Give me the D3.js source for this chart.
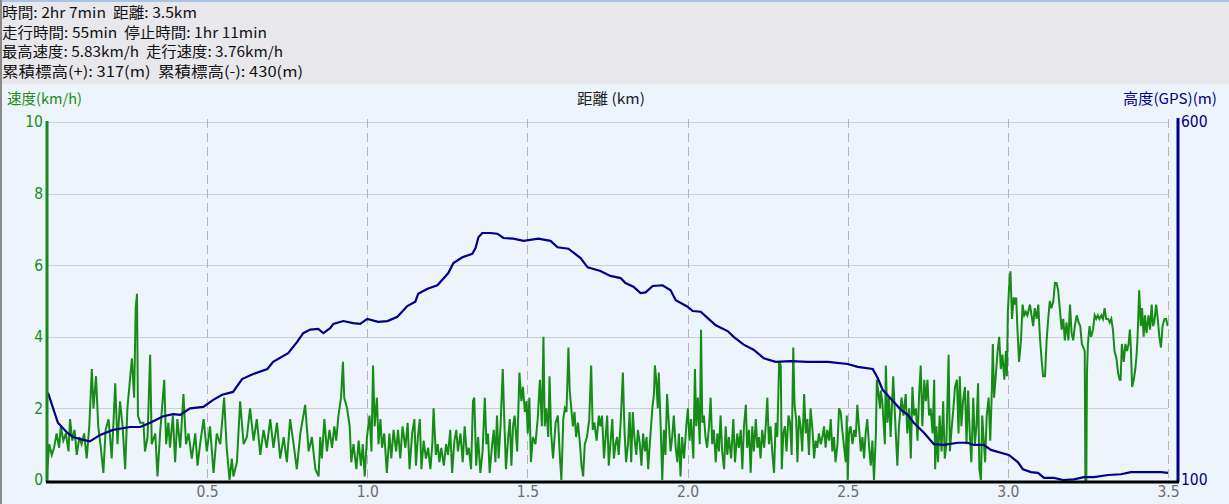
<!DOCTYPE html>
<html><head><meta charset="utf-8">
<script src="https://cdn.jsdelivr.net/npm/d3@7/dist/d3.min.js"></script>
<style>
html,body{margin:0;padding:0;background:#eef4fc;overflow:hidden;}
svg{display:block;}
text{white-space:pre;}
</style></head>
<body>
<svg id="chart" width="1229" height="504"></svg>
<script>
// ---------- summary text ----------
const summaryLines = [
  "時間: 2hr 7min  距離: 3.5km",
  "走行時間: 55min  停止時間: 1hr 11min",
  "最高速度: 5.83km/h  走行速度: 3.76km/h",
  "累積標高(+): 317(m)  累積標高(-): 430(m)"
];
const summaryWidths = [195, 265, 281, 301];
const speedLabel = "速度(km/h)";
const distLabel = "距離 (km)";
const altLabel = "高度(GPS)(m)";

// ---------- axes ticks ----------
const distTicks = [0.5, 1.0, 1.5, 2.0, 2.5, 3.0, 3.5];
const speedTicks = [0, 2, 4, 6, 8, 10];
const altTicks = [100, 600];
const speedGrid = [2, 4, 6, 8, 10];

// ---------- altitude (km, m) ----------
const altitude = [
[0.003,222],[0.034,180],[0.063,166],[0.081,160],[0.113,156],[0.134,154],[0.166,163],[0.206,170],
[0.259,174],[0.291,174],[0.322,180],[0.363,189],[0.394,192],[0.416,191],[0.447,200],[0.488,202],
[0.519,212],[0.547,219],[0.581,223],[0.609,241],[0.644,248],[0.688,255],[0.706,265],[0.753,277],
[0.781,293],[0.800,305],[0.822,310],[0.847,311],[0.863,305],[0.884,312],[0.894,318],[0.925,322],
[0.956,319],[0.978,318],[1.000,325],[1.034,321],[1.063,322],[1.094,328],[1.125,343],[1.150,349],
[1.159,360],[1.188,367],[1.219,372],[1.253,389],[1.269,403],[1.297,411],[1.328,416],[1.338,424],
[1.347,439],[1.359,445],[1.384,445],[1.406,444],[1.425,438],[1.456,437],[1.488,434],[1.534,437],
[1.572,434],[1.594,425],[1.628,423],[1.666,410],[1.688,397],[1.728,392],[1.759,385],[1.791,382],
[1.806,375],[1.831,370],[1.853,361],[1.869,362],[1.891,371],[1.922,372],[1.947,365],[1.963,351],
[2.000,342],[2.016,336],[2.041,335],[2.063,326],[2.088,316],[2.125,308],[2.144,300],[2.175,289],
[2.206,282],[2.238,270],[2.275,265],[2.322,266],[2.375,265],[2.438,265],[2.500,262],[2.531,258],
[2.578,255],[2.594,242],[2.609,226],[2.634,214],[2.644,209],[2.666,198],[2.688,191],[2.706,180],
[2.738,166],[2.769,150],[2.800,149],[2.844,152],[2.875,152],[2.894,149],[2.925,149],[2.947,142],
[2.978,138],[3.003,135],[3.031,125],[3.047,115],[3.072,111],[3.094,110],[3.113,103],[3.144,103],
[3.172,100],[3.206,101],[3.238,104],[3.269,104],[3.313,107],[3.353,108],[3.384,111],[3.438,111],
[3.478,111],[3.500,110]
];

// ---------- speed (km, km/h), read in four stretches ----------
const speedA = [
[0,0],[0.001,0.3],[0.007,1.0],[0.015,0.7],[0.022,0.9],[0.030,1.3],[0.038,0.9],[0.043,1.5],[0.051,1.1],
[0.059,1.3],[0.067,0.8],[0.072,1.7],[0.079,1.1],[0.086,1.4],[0.093,0.7],[0.101,1.2],[0.108,1.0],
[0.116,1.3],[0.124,0.6],[0.132,1.5],[0.140,3.1],[0.145,2.0],[0.153,2.9],[0.160,1.5],[0.168,0.9],
[0.176,0.2],[0.183,1.4],[0.192,1.7],[0.197,1.2],[0.202,0.6],[0.207,1.5],[0.213,2.7],[0.220,1.0],
[0.228,2.2],[0.236,1.5],[0.244,0.3],[0.251,2.0],[0.257,2.6],[0.265,3.4],[0.272,2.3],[0.277,4.8],
[0.281,5.2],[0.284,1.8],[0.291,1.6],[0.301,1.6],[0.306,0.8],[0.314,1.2],[0.322,3.5],[0.327,1.0],
[0.338,1.3],[0.345,0.1],[0.353,1.3],[0.366,2.8],[0.372,1.0],[0.379,1.6],[0.384,0.9],[0.393,1.8],
[0.400,0.5],[0.407,1.7],[0.416,0.9],[0.426,2.4],[0.434,1.0],[0.442,1.3],[0.452,0.6],[0.463,1.3],
[0.470,0.4],[0.478,1.0],[0.489,1.7],[0.499,0.8],[0.509,1.5],[0.520,0.2],[0.530,1.3],[0.541,1.0],
[0.553,2.3],[0.561,0.9],[0.570,0.0],[0.577,0.6],[0.582,0.1],[0.593,0.5],[0.603,2.2],[0.614,1.0],
[0.624,1.2],[0.634,2.0],[0.645,1.1],[0.655,1.7],[0.666,0.7],[0.676,1.4],[0.686,0.9],[0.697,1.7],
[0.707,0.9],[0.718,1.6],[0.728,0.6],[0.739,1.2],[0.749,0.5],[0.759,1.7],[0.770,1.0],[0.780,0.3],
[0.791,1.3],[0.806,2.1],[0.817,0.8],[0.827,1.2],[0.838,0.3],[0.848,0.1]
];
const speedB = [
[0.853,1.2],[0.858,0.6],[0.866,1.7],[0.874,0.8],[0.882,1.4],[0.890,0.9],[0.897,1.5],[0.903,1.1],
[0.910,1.8],[0.918,2.3],[0.924,3.3],[0.928,2.3],[0.937,2.0],[0.945,1.5],[0.950,0.5],[0.957,1.0],
[0.966,0.3],[0.973,1.1],[0.980,0.4],[0.986,1.0],[0.992,0.1],[0.999,1.2],[1.007,1.8],[1.013,0.8],
[1.018,3.2],[1.023,1.5],[1.030,2.3],[1.035,1.0],[1.041,1.7],[1.046,0.9],[1.053,1.3],[1.061,0.2],
[1.069,1.3],[1.075,0.6],[1.082,1.4],[1.090,0.8],[1.096,1.4],[1.103,0.6],[1.110,1.5],[1.119,0.9],
[1.126,1.6],[1.132,0.3],[1.140,1.3],[1.147,1.7],[1.152,0.4],[1.158,1.2],[1.164,1.7],[1.169,0.3],
[1.176,1.1],[1.183,0.6],[1.190,0.9],[1.197,0.3],[1.203,1.0],[1.207,2.0],[1.214,0.7],[1.220,1.0],
[1.225,0.5],[1.231,0.9],[1.239,0.4],[1.246,1.0],[1.252,0.7],[1.259,1.4],[1.265,0.2],[1.272,1.1],
[1.278,1.4],[1.283,0.8],[1.291,1.3],[1.298,0.5],[1.304,1.5],[1.311,0.7],[1.317,0.9],[1.324,0.3],
[1.330,2.2],[1.334,2.3],[1.340,0.4],[1.346,1.2],[1.353,0.2],[1.360,0.8],[1.367,2.3],[1.372,1.0],
[1.377,1.3],[1.382,0.2],[1.390,1.0],[1.395,1.4],[1.400,0.5],[1.405,1.8],[1.410,0.6],[1.416,1.5],
[1.423,3.1],[1.428,1.6],[1.433,0.3],[1.440,1.2],[1.445,1.7],[1.450,0.4],[1.455,1.5],[1.460,1.8],
[1.468,0.8],[1.475,3.0],[1.481,2.2],[1.486,2.6],[1.492,1.9],[1.497,2.2],[1.501,1.3],[1.506,2.3],
[1.511,0.5],[1.517,1.2],[1.525,1.0],[1.532,1.7],[1.539,2.8],[1.545,1.5],[1.550,4.0],[1.554,1.5],
[1.559,2.0],[1.565,1.2],[1.569,2.9],[1.574,1.3],[1.580,0.6],[1.588,1.6],[1.595,1.8],[1.601,0.7],
[1.606,0.0],[1.612,1.7],[1.617,2.0],[1.622,1.9],[1.628,3.7],[1.632,2.5],[1.636,2.1],[1.642,1.5],
[1.647,1.9],[1.652,1.2],[1.658,1.6],[1.664,1.0],[1.669,0.4],[1.674,0.1],[1.679,1.0],[1.686,1.2],
[1.693,1.7],[1.699,3.2],[1.704,1.4],[1.709,1.6],[1.716,1.1],[1.723,1.8]
];
const speedC = [
[1.728,1.5],[1.733,1.8],[1.739,0.6],[1.744,1.2],[1.749,1.8],[1.754,0.4],[1.759,1.0],[1.765,1.7],
[1.770,0.6],[1.775,1.0],[1.780,1.2],[1.785,0.7],[1.791,1.6],[1.798,3.0],[1.803,1.4],[1.808,0.5],
[1.814,1.0],[1.819,1.9],[1.824,0.5],[1.829,1.9],[1.834,1.2],[1.840,0.7],[1.845,1.4],[1.851,1.0],
[1.856,0.4],[1.861,1.3],[1.867,0.8],[1.872,1.2],[1.877,0.3],[1.882,1.0],[1.890,2.0],[1.895,2.4],
[1.898,3.2],[1.902,2.8],[1.907,2.0],[1.910,3.0],[1.916,1.5],[1.921,0.0],[1.926,1.4],[1.931,0.7],
[1.936,2.4],[1.942,1.5],[1.947,0.8],[1.952,1.2],[1.957,1.8],[1.963,0.9],[1.968,0.5],[1.973,1.3],
[1.978,0.1],[1.983,1.2],[1.989,0.6],[1.996,1.5],[2.001,2.0],[2.006,1.1],[2.011,1.7],[2.018,0.6],
[2.023,3.1],[2.027,1.5],[2.032,2.3],[2.038,1.0],[2.042,4.2],[2.046,1.6],[2.051,1.8],[2.056,1.2],
[2.061,0.9],[2.067,1.5],[2.072,2.3],[2.077,1.0],[2.082,1.4],[2.088,0.5],[2.093,1.3],[2.098,0.8],
[2.103,1.8],[2.108,0.8],[2.114,0.3],[2.119,1.5],[2.124,0.7],[2.129,1.2],[2.136,0.6],[2.143,1.7],
[2.148,0.5],[2.155,1.3],[2.160,0.9],[2.166,1.4],[2.171,0.3],[2.176,1.5],[2.182,2.1],[2.186,0.9],
[2.192,1.4],[2.197,0.2],[2.202,1.5],[2.207,0.8],[2.213,1.7],[2.218,0.9],[2.223,1.2],[2.228,0.6],
[2.233,1.4],[2.239,0.9],[2.244,1.5],[2.249,2.3],[2.254,1.0],[2.259,1.5],[2.265,0.7],[2.270,0.2],
[2.275,1.6],[2.280,1.2],[2.286,3.3],[2.291,3.2],[2.294,0.3],[2.299,1.3],[2.304,1.5],[2.309,0.8],
[2.315,1.8],[2.320,1.6],[2.325,0.7],[2.330,3.7],[2.334,2.1],[2.339,1.7],[2.343,0.5],[2.348,1.8],
[2.353,1.5],[2.358,0.8],[2.364,2.4],[2.369,1.3],[2.374,1.7],[2.379,0.7],[2.384,2.0],[2.390,1.4],
[2.395,0.6],[2.400,1.1],[2.405,0.9],[2.410,1.3],[2.416,1.0],[2.421,1.2],[2.426,1.5],[2.431,0.9],
[2.436,1.4],[2.442,1.1],[2.447,1.7],[2.452,0.8],[2.457,1.2],[2.462,0.5],[2.468,1.0],[2.473,2.0],
[2.478,1.9],[2.483,1.4],[2.489,0.9],[2.494,0.5],[2.497,1.8],[2.500,0.0],[2.504,1.3],[2.509,1.5],
[2.515,1.0],[2.520,1.4],[2.525,1.2],[2.530,2.1],[2.535,1.5],[2.541,0.8],[2.546,1.2],[2.551,0.6],
[2.556,1.3],[2.561,1.7],[2.567,0.9],[2.572,0.4],[2.577,1.1],[2.582,0.0],[2.588,1.3],[2.591,2.8],
[2.596,2.4],[2.601,2.0]
];
const speedD = [
[2.603,2.5],[2.608,2.2],[2.616,1.0],[2.619,3.2],[2.624,1.6],[2.629,2.3],[2.634,1.2],[2.642,2.9],
[2.648,1.7],[2.655,0.4],[2.660,1.5],[2.668,2.3],[2.674,1.8],[2.681,2.4],[2.686,1.3],[2.692,2.0],
[2.697,0.6],[2.702,2.6],[2.707,1.8],[2.713,2.0],[2.718,1.1],[2.723,2.4],[2.728,3.2],[2.733,1.5],
[2.739,2.8],[2.744,2.2],[2.749,2.8],[2.754,1.8],[2.759,2.0],[2.765,1.3],[2.770,2.8],[2.773,0.3],
[2.777,1.5],[2.782,0.5],[2.787,1.8],[2.793,0.8],[2.798,2.2],[2.803,0.6],[2.808,1.0],[2.815,3.5],
[2.819,0.8],[2.825,1.5],[2.830,2.0],[2.835,2.6],[2.841,2.8],[2.846,1.3],[2.850,2.9],[2.855,1.5],
[2.860,2.2],[2.866,2.6],[2.871,1.0],[2.876,2.5],[2.881,1.3],[2.886,0.5],[2.892,2.3],[2.897,1.0],
[2.902,1.5],[2.907,2.7],[2.911,0.3],[2.916,0.0],[2.920,1.8],[2.924,1.2],[2.929,0.5],[2.934,1.8],
[2.940,2.3],[2.945,1.1],[2.950,2.5],[2.953,3.8],[2.957,2.3],[2.963,3.0],[2.968,3.6],[2.973,4.0],
[2.978,3.1],[2.983,3.5],[2.989,2.8],[2.994,3.6],[2.997,2.9],[3.000,4.7],[3.004,5.4],[3.008,5.83],
[3.013,4.5],[3.018,5.1],[3.022,4.9],[3.026,5.1],[3.030,4.2],[3.035,3.3],[3.041,3.9],[3.046,4.9],
[3.051,4.6],[3.056,4.7],[3.061,4.6],[3.069,4.9],[3.074,4.6],[3.079,4.3],[3.084,4.8],[3.090,4.5],
[3.095,4.9],[3.100,4.0],[3.105,3.4],[3.110,2.9],[3.116,2.9],[3.121,3.9],[3.126,4.5],[3.131,5.0],
[3.136,4.8],[3.142,5.0],[3.147,5.5],[3.152,5.5],[3.157,5.3],[3.162,4.8],[3.168,4.2],[3.173,4.5],
[3.178,3.9],[3.183,4.4],[3.189,3.9],[3.194,4.9],[3.199,4.1],[3.204,3.9],[3.209,4.3],[3.215,4.6],
[3.221,4.4],[3.226,4.3],[3.231,3.8],[3.236,3.7],[3.240,3.6],[3.242,0.0],[3.245,0.0],[3.247,3.0],
[3.250,3.8],[3.255,4.3],[3.260,4.0],[3.266,4.2],[3.271,4.6],[3.276,4.5],[3.281,4.6],[3.286,4.5],
[3.292,4.6],[3.297,4.5],[3.302,4.8],[3.307,4.5],[3.313,4.5],[3.318,4.4],[3.323,4.5],[3.328,4.2],
[3.333,3.6],[3.339,3.4],[3.344,3.0],[3.349,2.8],[3.352,2.8],[3.356,3.8],[3.362,3.3],[3.367,3.8],
[3.372,3.6],[3.377,3.8],[3.381,4.2],[3.384,3.7],[3.388,2.6],[3.393,2.8],[3.398,3.1],[3.402,3.5],
[3.405,4.0],[3.410,5.3],[3.415,4.3],[3.419,4.8],[3.424,4.0],[3.428,4.6],[3.433,4.1],[3.439,4.6],
[3.444,4.2],[3.449,4.9],[3.453,4.3],[3.457,4.4],[3.463,4.9],[3.468,4.5],[3.473,4.0],[3.478,3.7],
[3.483,4.3],[3.489,4.5],[3.494,4.5],[3.499,4.3]
];
const speed = speedA.concat(speedB, speedC, speedD);

// ---------- drawing ----------
const svg = d3.select("#chart");
const W = 1229, H = 504;
const x = d3.scaleLinear().domain([0, 3.5]).range([47, 1168]);
const ySpeed = d3.scaleLinear().domain([0, 10]).range([480, 122]);
const yAlt = d3.scaleLinear().domain([100, 600]).range([480, 122]);
const GREEN = "#168c16", NAVY = "#000088";
const headerFont = "'Noto Sans CJK JP', 'Noto Sans', sans-serif";
const tickFont = "'Liberation Sans Narrow', 'DejaVu Sans Condensed', 'Liberation Sans', sans-serif";

// background
svg.append("rect").attr("width", W).attr("height", H).attr("fill", "#eef4fc");
svg.append("rect").attr("width", W).attr("height", 84).attr("fill", "#e8e7ec");
svg.append("rect").attr("width", W).attr("height", 2).attr("fill", "#a9c3e3");
svg.append("rect").attr("x", 0).attr("width", 2).attr("height", H).attr("fill", "#8a8a8a");

// header text
svg.append("g").selectAll("text").data(summaryLines).join("text")
  .attr("x", 2).attr("y", (d, i) => 18 + i * 19.6)
  .attr("textLength", (d, i) => summaryWidths[i]).attr("lengthAdjust", "spacingAndGlyphs")
  .attr("font-family", headerFont).attr("font-size", 14.5).attr("fill", "#111")
  .text(d => d);

// axis titles
svg.append("text").attr("x", 7).attr("y", 104).attr("font-family", headerFont)
  .attr("textLength", 75).attr("lengthAdjust", "spacingAndGlyphs")
  .attr("font-size", 14.5).attr("fill", GREEN).text(speedLabel);
svg.append("text").attr("x", 577).attr("y", 104)
  .attr("textLength", 68).attr("lengthAdjust", "spacingAndGlyphs")
  .attr("font-family", headerFont).attr("font-size", 14.5).attr("fill", "#222").text(distLabel);
svg.append("text").attr("x", 1123).attr("y", 104)
  .attr("textLength", 94).attr("lengthAdjust", "spacingAndGlyphs")
  .attr("font-family", headerFont).attr("font-size", 14.5).attr("fill", NAVY).text(altLabel);

// grid
svg.append("g").selectAll("line").data(speedGrid).join("line")
  .attr("x1", 47).attr("x2", 1168)
  .attr("y1", d => Math.round(ySpeed(d)) + 0.5).attr("y2", d => Math.round(ySpeed(d)) + 0.5)
  .attr("stroke", "#cdd0d8").attr("stroke-width", 1);
svg.append("g").selectAll("line").data(distTicks).join("line")
  .attr("x1", d => Math.round(x(d)) + 0.5).attr("x2", d => Math.round(x(d)) + 0.5)
  .attr("y1", 119).attr("y2", 480)
  .attr("stroke", "#b4b4bc").attr("stroke-width", 1).attr("stroke-dasharray", "9,5");

// speed line
const speedLine = d3.line().x(d => x(d[0])).y(d => ySpeed(d[1]));
svg.append("path").datum(speed).attr("d", speedLine)
  .attr("fill", "none").attr("stroke", GREEN).attr("stroke-width", 2).attr("stroke-linejoin", "miter");

// altitude line
const altLine = d3.line().x(d => x(d[0])).y(d => yAlt(d[1]));
svg.append("path").datum(altitude).attr("d", altLine)
  .attr("fill", "none").attr("stroke", NAVY).attr("stroke-width", 2.2);

// axes
const leftAxis = d3.axisLeft(ySpeed).tickValues(speedTicks).tickSize(0).tickPadding(4);
const gL = svg.append("g").attr("transform", "translate(47,0)").call(leftAxis);
gL.select(".domain").remove();
gL.selectAll("text").attr("fill", GREEN).attr("font-family", tickFont).attr("font-size", 15.5);

const rightAxis = d3.axisRight(yAlt).tickValues(altTicks).tickSize(0).tickPadding(3);
const gR = svg.append("g").attr("transform", "translate(1178,0)").call(rightAxis);
gR.select(".domain").remove();
gR.selectAll("text").attr("fill", NAVY).attr("font-family", tickFont).attr("font-size", 15.5);

const bottomAxis = d3.axisBottom(x).tickValues(distTicks).tickSize(0).tickPadding(4)
  .tickFormat(d3.format(".1f"));
const gB = svg.append("g").attr("transform", "translate(0,482)").call(bottomAxis);
gB.select(".domain").remove();
gB.selectAll("text").attr("fill", "#6c6c6c").attr("font-family", tickFont).attr("font-size", 15.5);

svg.append("line").attr("x1", 47).attr("x2", 47).attr("y1", 121).attr("y2", 482)
  .attr("stroke", GREEN).attr("stroke-width", 3);
svg.append("line").attr("x1", 1178).attr("x2", 1178).attr("y1", 118).attr("y2", 482)
  .attr("stroke", NAVY).attr("stroke-width", 3);
svg.append("line").attr("x1", 46).attr("x2", 1179).attr("y1", 482).attr("y2", 482)
  .attr("stroke", "#000").attr("stroke-width", 3);
</script>
</body></html>
